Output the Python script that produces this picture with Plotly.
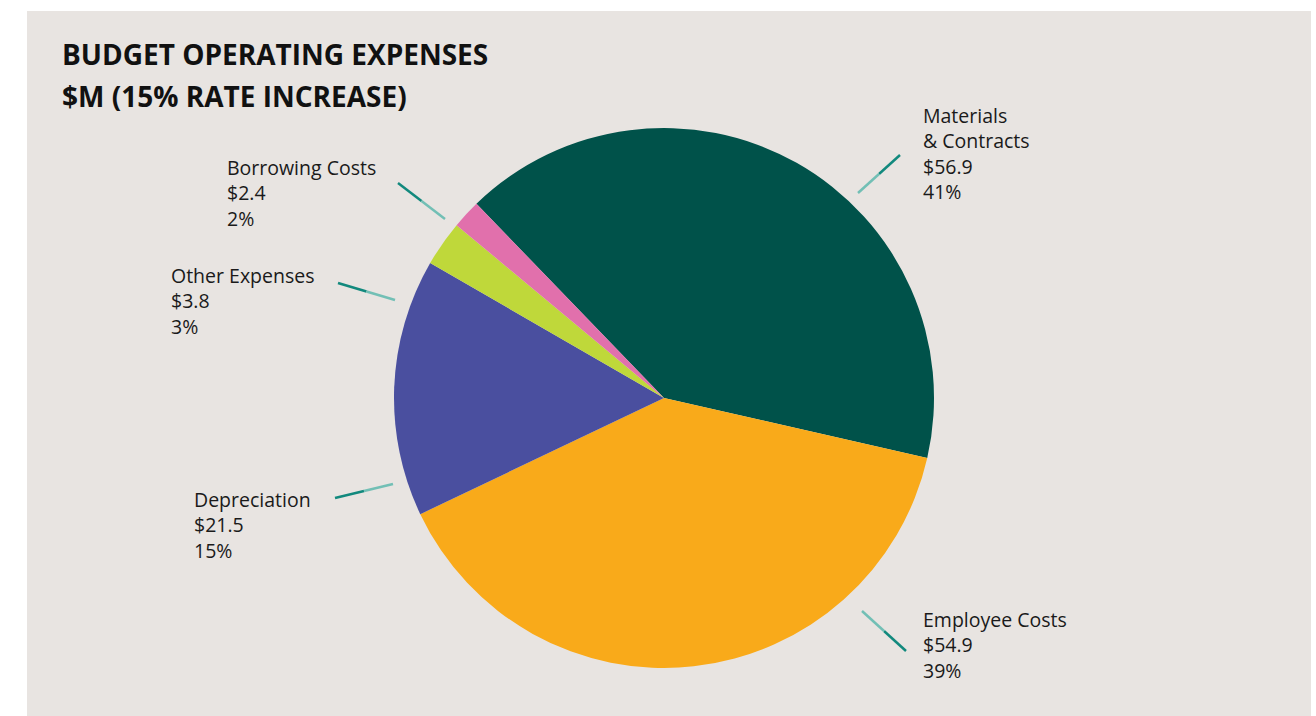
import plotly.graph_objects as go

# Operating expense categories ($M)
categories = ["Materials & Contracts", "Employee Costs", "Depreciation",
              "Other Expenses", "Borrowing Costs"]
label_names = ["Materials<br>& Contracts", "Employee Costs", "Depreciation",
               "Other Expenses", "Borrowing Costs"]
values = [56.9, 54.9, 21.5, 3.8, 2.4]
percent_labels = ["41%", "39%", "15%", "3%", "2%"]
colors = ["#00524A", "#F9AA1A", "#4A4F9F", "#BFD83A", "#E170AC"]

W, H = 1316, 716
FONT = "Open Sans, Noto Sans, sans-serif"


def px(x):
    return x / W


def py(y):
    return 1 - y / H


fig = go.Figure()

# pie centred at (664, 398) with radius 270 px
cx, cy, r = 664, 398, 270
fig.add_trace(go.Pie(
    labels=categories,
    values=values,
    marker=dict(colors=colors, line=dict(width=0)),
    sort=False,
    direction="clockwise",
    rotation=-44,
    textinfo="none",
    hoverinfo="label+value+percent",
    showlegend=False,
    domain=dict(x=[px(cx - r), px(cx + r)], y=[py(cy + r), py(cy - r)]),
))

# background panel
fig.add_shape(type="rect", xref="paper", yref="paper",
              x0=px(27), x1=px(1311), y0=py(716), y1=py(11),
              fillcolor="#E8E4E1", line=dict(width=0), layer="below")

# label placement: (text left x, text top y, leader outer end, leader inner end)
label_layout = [
    (921, 100, (900, 155), (858, 193)),
    (921, 604, (906, 651), (862, 611)),
    (192, 484, (335, 498), (393, 484)),
    (169, 260, (338, 283), (395, 300)),
    (225, 152, (398, 183), (445, 219)),
]

for name, val, pct, (tx, ty, outer, inner) in zip(label_names, values, percent_labels, label_layout):
    fig.add_annotation(
        xref="paper", yref="paper", x=px(tx), y=py(ty),
        xanchor="left", yanchor="top", align="left", showarrow=False,
        text=f"{name}<br>${val:.1f}<br>{pct}",
        font=dict(family=FONT, size=19.5, color="#1A1A1A"),
    )
    mx = (outer[0] + inner[0]) / 2
    my = (outer[1] + inner[1]) / 2
    fig.add_shape(type="line", xref="paper", yref="paper",
                  x0=px(outer[0]), y0=py(outer[1]), x1=px(mx), y1=py(my),
                  line=dict(color="#12897D", width=2.5))
    fig.add_shape(type="line", xref="paper", yref="paper",
                  x0=px(mx), y0=py(my), x1=px(inner[0]), y1=py(inner[1]),
                  line=dict(color="#72BFB5", width=2.5))

# title, two lines
for i, row in enumerate(["BUDGET OPERATING EXPENSES", "$M (15% RATE INCREASE)"]):
    fig.add_annotation(
        xref="paper", yref="paper", x=px(60), y=py(54 + i * 42),
        xanchor="left", yanchor="middle", align="left", showarrow=False,
        text=f"<b>{row}</b>",
        font=dict(family=FONT, size=28, color="#111111"),
    )

fig.update_layout(
    width=W, height=H,
    margin=dict(l=0, r=0, t=0, b=0),
    paper_bgcolor="#FFFFFF",
    plot_bgcolor="#FFFFFF",
)

fig.write_html("out.html")
